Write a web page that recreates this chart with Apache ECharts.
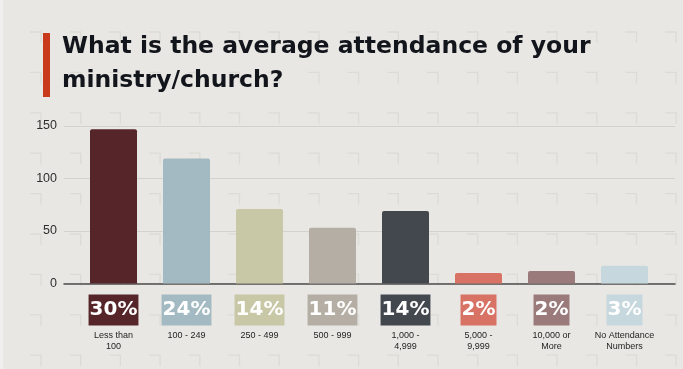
<!DOCTYPE html>
<html>
<head>
<meta charset="utf-8">
<script src="https://cdn.jsdelivr.net/npm/echarts@6/dist/echarts.min.js"></script>
<style>
  html, body { margin: 0; padding: 0; background: #e8e7e3; }
  #chart { width: 683px; height: 369px; }
</style>
</head>
<body>
<div id="chart"></div>
<script>
// Attendance buckets, respondent counts and share of respondents
const categories = ['Less than\n100', '100 - 249', '250 - 499', '500 - 999', '1,000 -\n4,999', '5,000 -\n9,999', '10,000 or\nMore', 'No Attendance\nNumbers'];
const counts = [147, 119, 71, 53, 69, 10, 12, 17];
const shares = ['30%', '24%', '14%', '11%', '14%', '2%', '2%', '3%'];
const yTicks = [0, 50, 100, 150];

const palette = ['#55252a', '#a3bac2', '#c8c8a7', '#b4aea5', '#43474e', '#d77264', '#9a7a7b', '#c7d7de'];

const chart = echarts.init(document.getElementById('chart'), null, { renderer: 'canvas' });

// faint corner-mark texture over the page background
const texture = [];
for (let r = 0; r < 10; r++) {
  for (let c = 0; c < 18; c++) {
    const x = 41 + c * 39.7;
    const y = 32 + r * 40.4;
    texture.push({
      type: 'polyline',
      silent: true,
      z: -10,
      shape: { points: [[x - 11, y], [x, y], [x, y + 11]] },
      style: { stroke: '#dcdbd6', lineWidth: 1.3, fill: null }
    });
  }
}

const rich = {
  s: { fontSize: 1, lineHeight: 5 },
  c: { fontSize: 9, lineHeight: 10.5, color: '#1e1e1e', fontFamily: 'Liberation Sans', fontWeight: 500 }
};
palette.forEach((col, i) => {
  rich['p' + i] = {
    backgroundColor: col,
    color: '#ffffff',
    fontFamily: 'DejaVu Sans',
    fontWeight: 'bold',
    fontSize: 20,
    lineHeight: 31,
    height: 31,
    padding: [0, 1]
  };
});

chart.setOption({
  backgroundColor: '#e8e7e3',
  animation: false,
  title: {
    text: 'What is the average attendance of your\nministry/church?',
    left: 62,
    top: 30,
    padding: 0,
    textStyle: {
      fontFamily: 'DejaVu Sans',
      fontWeight: 'bold',
      fontSize: 23.5,
      lineHeight: 34,
      color: '#12151b'
    }
  },
  graphic: texture.concat([
    { type: 'rect', silent: true, z: -5, shape: { x: 0, y: 0, width: 3, height: 369 }, style: { fill: '#f0efed' } },
    { type: 'rect', silent: true, shape: { x: 43, y: 33, width: 7, height: 64 }, style: { fill: '#c9391c' } }
  ]),
  grid: [
    { left: 64, right: 8, top: 126, bottom: 85.5 },
    { left: 77, right: 22, top: 126, bottom: 85.5 }
  ],
  xAxis: [
    {
      gridIndex: 0, type: 'value', min: 0, max: 1,
      axisLine: { show: true, lineStyle: { color: '#4d4d4d', width: 1.5 } },
      axisTick: { show: false }, axisLabel: { show: false }, splitLine: { show: false }
    },
    {
      gridIndex: 1, type: 'category', data: categories,
      axisLine: { show: false }, axisTick: { show: false },
      axisLabel: {
        interval: 0,
        margin: 11,
        formatter: (value, idx) =>
          `{p${idx}|${shares[idx]}}\n{s| }\n` + value.split('\n').map(l => `{c|${l}}`).join('\n'),
        rich: rich
      }
    }
  ],
  yAxis: [
    {
      gridIndex: 0, type: 'value', min: yTicks[0], max: yTicks[yTicks.length - 1], interval: 50,
      axisLine: { show: false }, axisTick: { show: false },
      axisLabel: { margin: 7, color: '#2e2e2e', fontSize: 12.5, fontFamily: 'Liberation Sans' },
      splitLine: { show: true, lineStyle: { color: '#d3d2ce', width: 1 } }
    },
    {
      gridIndex: 1, type: 'value', min: yTicks[0], max: yTicks[yTicks.length - 1], interval: 50,
      show: false
    }
  ],
  series: [
    {
      type: 'bar',
      xAxisIndex: 1,
      yAxisIndex: 1,
      barWidth: 47,
      data: counts.map((v, i) => ({ value: v, itemStyle: { color: palette[i] } })),
      itemStyle: { borderRadius: [2, 2, 0, 0] },
      z: 3
    }
  ]
});
</script>
</body>
</html>
